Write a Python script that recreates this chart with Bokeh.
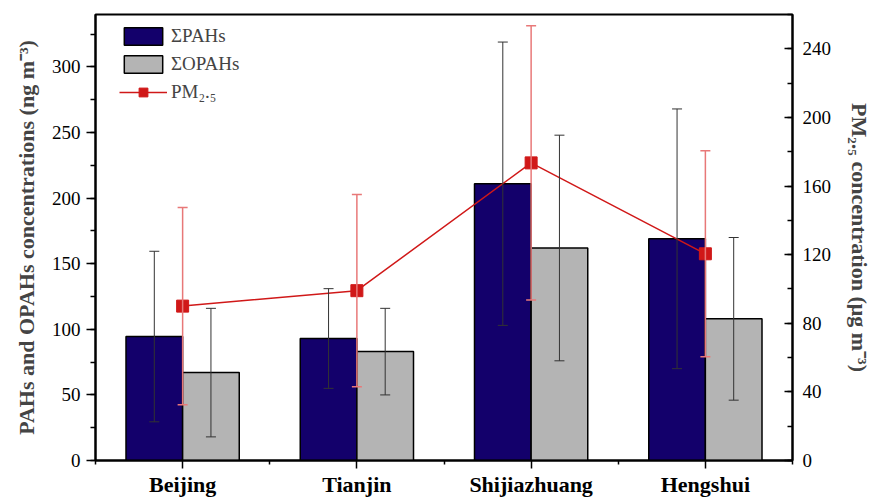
from bokeh.plotting import figure
from bokeh.models import (Range1d, LinearAxis, FixedTicker, Whisker, TeeHead,
                          ColumnDataSource, Legend, LegendItem)
from bokeh.embed import file_html
from bokeh.resources import INLINE

# ---- data ----
cities = ["Beijing", "Tianjin", "Shijiazhuang", "Hengshui"]
pahs = [94.5, 93, 211, 169]
pahs_sd = [65, 38, 108, 99]
opahs = [67, 83, 162, 108]
opahs_sd = [49, 33, 86, 62]
pm25 = [90, 99, 173.5, 120.5]
pm25_sd = [57.5, 56, 80, 60]

left_ticks = [0, 50, 100, 150, 200, 250, 300]
left_minor = [0, 25, 50, 75, 100, 125, 150, 175, 200, 225, 250, 275, 300, 325]
right_ticks = [0, 40, 80, 120, 160, 200, 240]
right_minor = [0, 20, 40, 60, 80, 100, 120, 140, 160, 180, 200, 220, 240, 260]

# ---- styling ----
NAVY = "#13006b"
GRAY = "#b4b4b4"
RED = "#d01818"
RED_ERR = "#e87878"
FONT = "Liberation Serif"
BAR_W = 0.325
OFF = BAR_W / 2

xs = list(range(1, len(cities) + 1))
src = ColumnDataSource(dict(
    x=xs,
    x_pah=[v - OFF for v in xs],
    x_opah=[v + OFF for v in xs],
    pahs=pahs,
    pahs_lo=[v - e for v, e in zip(pahs, pahs_sd)],
    pahs_hi=[v + e for v, e in zip(pahs, pahs_sd)],
    opahs=opahs,
    opahs_lo=[v - e for v, e in zip(opahs, opahs_sd)],
    opahs_hi=[v + e for v, e in zip(opahs, opahs_sd)],
    pm=pm25,
    pm_lo=[v - e for v, e in zip(pm25, pm25_sd)],
    pm_hi=[v + e for v, e in zip(pm25, pm25_sd)],
))

p = figure(width=877, height=499, output_backend="svg", toolbar_location=None,
           x_range=Range1d(0.5, 4.5), y_range=Range1d(0, 340),
           min_border_left=95, min_border_right=85, min_border_top=14,
           min_border_bottom=36)
p.extra_y_ranges = {"pm": Range1d(0, 260)}
p.xgrid.visible = False
p.ygrid.visible = False
p.outline_line_color = "black"
p.outline_line_width = 2
p.background_fill_color = "white"
p.border_fill_color = "white"

r_pah = p.vbar(x="x_pah", top="pahs", width=BAR_W, source=src,
               fill_color=NAVY, line_color="black", line_width=1.5)
r_opah = p.vbar(x="x_opah", top="opahs", width=BAR_W, source=src,
                fill_color=GRAY, line_color="black", line_width=1.5)

def whisk(base, lo, hi, color, width, rng=None):
    kw = {}
    if rng:
        kw["y_range_name"] = rng
    w = Whisker(source=src, base=base, lower=lo, upper=hi,
                line_color=color, line_width=width,
                upper_head=TeeHead(size=10, line_color=color, line_width=width),
                lower_head=TeeHead(size=10, line_color=color, line_width=width),
                level="overlay", **kw)
    p.add_layout(w)

whisk("x_pah", "pahs_lo", "pahs_hi", "#333333", 1)
whisk("x_opah", "opahs_lo", "opahs_hi", "#333333", 1)
whisk("x", "pm_lo", "pm_hi", RED_ERR, 1.5, "pm")

r_line = p.line(x="x", y="pm", source=src, y_range_name="pm",
                line_color=RED, line_width=1.5, level="overlay")
r_sq = p.scatter(x="x", y="pm", source=src, y_range_name="pm", marker="square",
                 size=12, fill_color=RED, line_color=RED, level="overlay")

# ---- axes ----
xa = p.xaxis[0]
xa.ticker = FixedTicker(ticks=xs, minor_ticks=[0.5, 1.5, 2.5, 3.5, 4.5])
xa.major_label_overrides = {i: c for i, c in zip(xs, cities)}
xa.major_label_text_font = FONT
xa.major_label_text_font_style = "bold"
xa.major_label_text_font_size = "22px"
xa.major_label_text_color = "black"
xa.major_label_standoff = 3
xa.major_tick_out = 8
xa.major_tick_in = 0
xa.minor_tick_out = 4
xa.minor_tick_in = 0
xa.axis_line_width = 2
xa.major_tick_line_width = 1.5
xa.minor_tick_line_width = 1.5

ya = p.yaxis[0]
ya.ticker = FixedTicker(ticks=left_ticks, minor_ticks=left_minor)
ya.axis_label = "PAHs and OPAHs concentrations (ng m\u207b\u00b3)"
ya.axis_label_text_font = FONT
ya.axis_label_text_font_style = "bold"
ya.axis_label_text_font_size = "22px"
ya.axis_label_standoff = 10
ya.major_label_text_font = FONT
ya.major_label_text_font_size = "19px"
ya.major_label_text_color = "black"
ya.major_label_standoff = 6
ya.major_tick_out = 9
ya.major_tick_in = 0
ya.minor_tick_out = 5
ya.minor_tick_in = 0
ya.axis_line_width = 2
ya.major_tick_line_width = 1.5
ya.minor_tick_line_width = 1.5

ra = LinearAxis(y_range_name="pm",
                ticker=FixedTicker(ticks=right_ticks, minor_ticks=right_minor),
                axis_label="PM\u2082.\u2085 concentration (\u03bcg m\u207b\u00b3)")
ra.axis_label_text_font = FONT
ra.axis_label_text_font_style = "bold"
ra.axis_label_text_font_size = "22px"
ra.axis_label_standoff = 13
ra.major_label_text_font = FONT
ra.major_label_text_font_size = "19px"
ra.major_label_text_color = "black"
ra.major_label_standoff = 10
ra.major_tick_out = 0
ra.major_tick_in = 8
ra.minor_tick_out = 0
ra.minor_tick_in = 5
ra.axis_line_width = 2
ra.major_tick_line_width = 1.5
ra.minor_tick_line_width = 1.5
p.add_layout(ra, "right")

# ---- legend ----
legend = Legend(items=[
    LegendItem(label="\u03a3PAHs", renderers=[r_pah]),
    LegendItem(label="\u03a3OPAHs", renderers=[r_opah]),
    LegendItem(label="PM\u2082.\u2085", renderers=[r_line, r_sq]),
], location=(24, 357))
legend.padding = 0
legend.margin = 0
legend.spacing = 6
legend.glyph_width = 48
legend.glyph_height = 22
legend.label_standoff = 4
legend.label_text_font = FONT
legend.label_text_font_size = "19px"
legend.border_line_color = None
legend.background_fill_alpha = 0
p.add_layout(legend)

open("out.html", "w").write(file_html(p, INLINE))
